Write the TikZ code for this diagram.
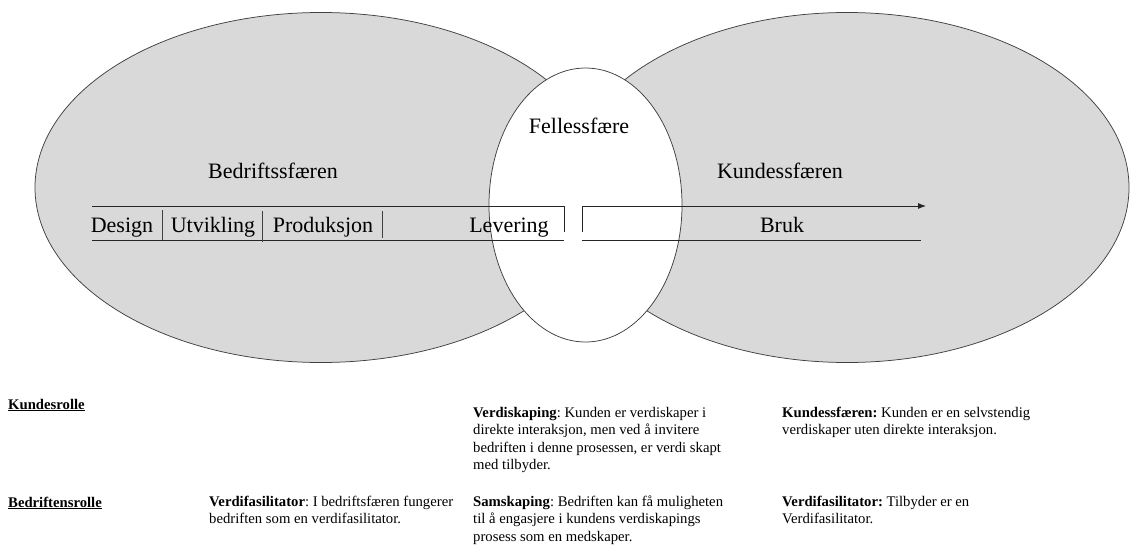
\documentclass[tikz,border=0pt]{standalone}
\usepackage{fontspec}
\setmainfont{Liberation Serif}
\usetikzlibrary{arrows.meta}
\definecolor{sphgray}{HTML}{D9D9D9}
\definecolor{edgegray}{HTML}{404040}
\frenchspacing
\begin{document}
\begin{tikzpicture}[x=1pt,y=-1pt,
  sphere/.style={draw=edgegray, line width=0.75pt, fill=sphgray},
  big/.style={font=\fontsize{22}{26}\selectfont, inner sep=0pt, anchor=base},
  small/.style={font=\fontsize{14.7}{17.5}\selectfont\frenchspacing, inner sep=0pt, anchor=base west},
  rule/.style={draw=black!85, line width=0.85pt},
  sep/.style={draw=black!75, line width=0.85pt}]
\useasboundingbox (0,0) rectangle (1130,544);
% spheres
\draw[sphere] (321,187.5) ellipse [x radius=286, y radius=175];
\draw[sphere] (847,187.5) ellipse [x radius=282, y radius=175];
\draw[sphere, fill=white] (585.5,205) ellipse [x radius=96.5, y radius=137];
% sphere labels
\node[big] (bed) at (273,178) {Bedriftssfæren};
\node[big] (kun) at (780,178) {Kundessfæren};
\node[big] (fel) at (579,133) {Fellessfære};
% process row, company side
\coordinate (ltop) at (92,206);
\coordinate (ltopend) at (564,206);
\coordinate (ltopdown) at (564,232);
\coordinate (lbot) at (92,240);
\coordinate (lbotend) at (564,240);
\draw[rule] (ltop) -- (ltopend) -- (ltopdown);
\draw[rule] (lbot) -- (lbotend);
\draw[sep] (162,210) -- (162,240);
\draw[sep] (262,211) -- (262,242);
\draw[sep] (382,211) -- (382,238);
\node[big] (des) at (122,232) {Design};
\node[big] (utv) at (213,232) {Utvikling};
\node[big] (pro) at (323,232) {Produksjon};
\node[big] (lev) at (509,232) {Levering};
% process row, customer side
\coordinate (rup) at (582,232);
\coordinate (rcorner) at (582,206);
\coordinate (rtip) at (926,206);
\coordinate (rbot) at (582,240);
\coordinate (rbotend) at (921,240);
\draw[rule, -{Latex[length=8pt,width=6pt]}] (rup) -- (rcorner) -- (rtip);
\draw[rule] (rbot) -- (rbotend);
\node[big] (bruk) at (782,232) {Bruk};
% roles
\node[small] (kr) at (8,409) {\underline{\textbf{Kundesrolle}}};
\node[small] (br) at (8,507) {\underline{\textbf{Bedriftensrolle}}};
\node[small] (vf1) at (209,506) {\vtop{\hbox{\textbf{Verdifasilitator}: I bedriftsfæren fungerer}\hbox{bedriften som en verdifasilitator.}}};
\node[small] (vs) at (473,417) {\vtop{\hbox{\textbf{Verdiskaping}: Kunden er verdiskaper i}\hbox{direkte interaksjon, men ved å invitere}\hbox{bedriften i denne prosessen, er verdi skapt}\hbox{med tilbyder.}}};
\node[small] (sk) at (473,506) {\vtop{\hbox{\textbf{Samskaping}: Bedriften kan få muligheten}\hbox{til å engasjere i kundens verdiskapings}\hbox{prosess som en medskaper.}}};
\node[small] (ks) at (782,417) {\vtop{\hbox{\textbf{Kundessfæren:} Kunden er en selvstendig}\hbox{verdiskaper uten direkte interaksjon.}}};
\node[small] (vf2) at (782,506) {\vtop{\hbox{\textbf{Verdifasilitator:} Tilbyder er en}\hbox{Verdifasilitator.}}};
\end{tikzpicture}
\end{document}
